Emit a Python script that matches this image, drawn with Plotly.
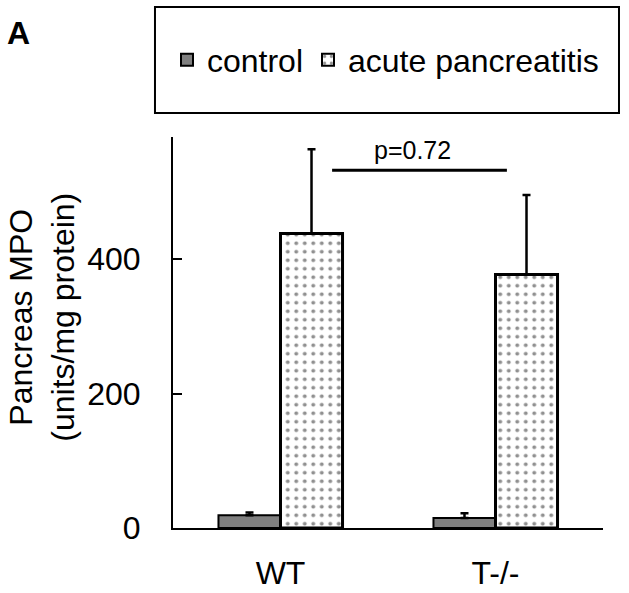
import plotly.graph_objects as go

# ---- data ----
categories = ["WT", "T-/-"]
control_values = [19, 15]
control_err = [4, 7]
ap_values = [438, 377]
ap_err = [125, 118]
series_names = ["control", "acute pancreatitis"]
y_tickvals = [0, 200, 400]
y_ticktext = ["0", "200", "400"]
p_label = "p=0.72"
p_line_x = [0.24, 1.053]   # category-axis positions of the significance line
p_line_y = 532
p_text_x = 0.616
p_text_y = 562

FONT = "Liberation Sans, Arial, sans-serif"

fig = go.Figure()
fig.add_trace(go.Bar(
    x=categories, y=control_values, name=series_names[0],
    marker=dict(color="#808080", line=dict(color="black", width=2)),
    error_y=dict(type="data", array=control_err, arrayminus=[0, 0], symmetric=False,
                 color="black", thickness=2.5, width=4),
))
fig.add_trace(go.Bar(
    x=categories, y=ap_values, name=series_names[1],
    marker=dict(color="white", line=dict(color="black", width=3),
                pattern=dict(shape=".", fgcolor="#222222", bgcolor="white",
                             size=8.5, solidity=0.17)),
    error_y=dict(type="data", array=ap_err, arrayminus=[0, 0], symmetric=False,
                 color="black", thickness=2.5, width=4),
))

# significance line
fig.add_shape(type="line", xref="x", yref="y",
              x0=p_line_x[0], x1=p_line_x[1], y0=p_line_y, y1=p_line_y,
              line=dict(color="black", width=3))
fig.add_annotation(x=p_text_x, y=p_text_y, xref="x", yref="y", text=p_label,
                   showarrow=False, font=dict(size=25, color="black", family=FONT))

# legend box
fig.add_shape(type="rect", xref="paper", yref="paper",
              x0=-0.0419, x1=1.0372, y0=1.0614, y1=1.3325,
              line=dict(color="black", width=2), fillcolor="rgba(0,0,0,0)")

# y title
fig.add_annotation(xref="paper", yref="paper", x=-0.305, y=0.54,
                   text="Pancreas MPO<br>(units/mg protein)", textangle=-90,
                   showarrow=False, xanchor="center", yanchor="middle",
                   font=dict(size=32, color="black", family=FONT))
# panel label
fig.add_annotation(xref="paper", yref="paper", x=(5 - 173) / 430, y=(528 - 33) / 391,
                   text="<b>A</b>", showarrow=False, xanchor="left", yanchor="middle",
                   font=dict(size=32, color="black", family=FONT))

fig.update_layout(
    width=629, height=593,
    margin=dict(l=173, r=26, t=137, b=65, autoexpand=False),
    paper_bgcolor="white", plot_bgcolor="white",
    barmode="group", bargap=0.423, bargroupgap=0,
    font=dict(family=FONT, size=32, color="black"),
    showlegend=True,
    legend=dict(orientation="h", x=-0.014, y=1.197, xanchor="left", yanchor="middle",
                bgcolor="rgba(0,0,0,0)", borderwidth=0,
                font=dict(size=32, color="black", family=FONT),
                itemsizing="constant"),
)
fig.update_xaxes(showline=True, linecolor="black", linewidth=2, ticks="",
                 showgrid=False, zeroline=False, ticklabelstandoff=16,
                 tickfont=dict(size=32))
fig.update_yaxes(range=[0, 581.4], tickvals=y_tickvals, ticktext=y_ticktext,
                 showline=True, linecolor="black", linewidth=2,
                 ticks="inside", ticklen=9, tickwidth=2, tickcolor="black",
                 showgrid=False, zeroline=False, ticklabelstandoff=24,
                 tickfont=dict(size=32))

fig.write_html(
    "out.html",
    config={"displayModeBar": False},
    post_script="document.body.style.margin='0';document.body.style.overflow='hidden';",
)
